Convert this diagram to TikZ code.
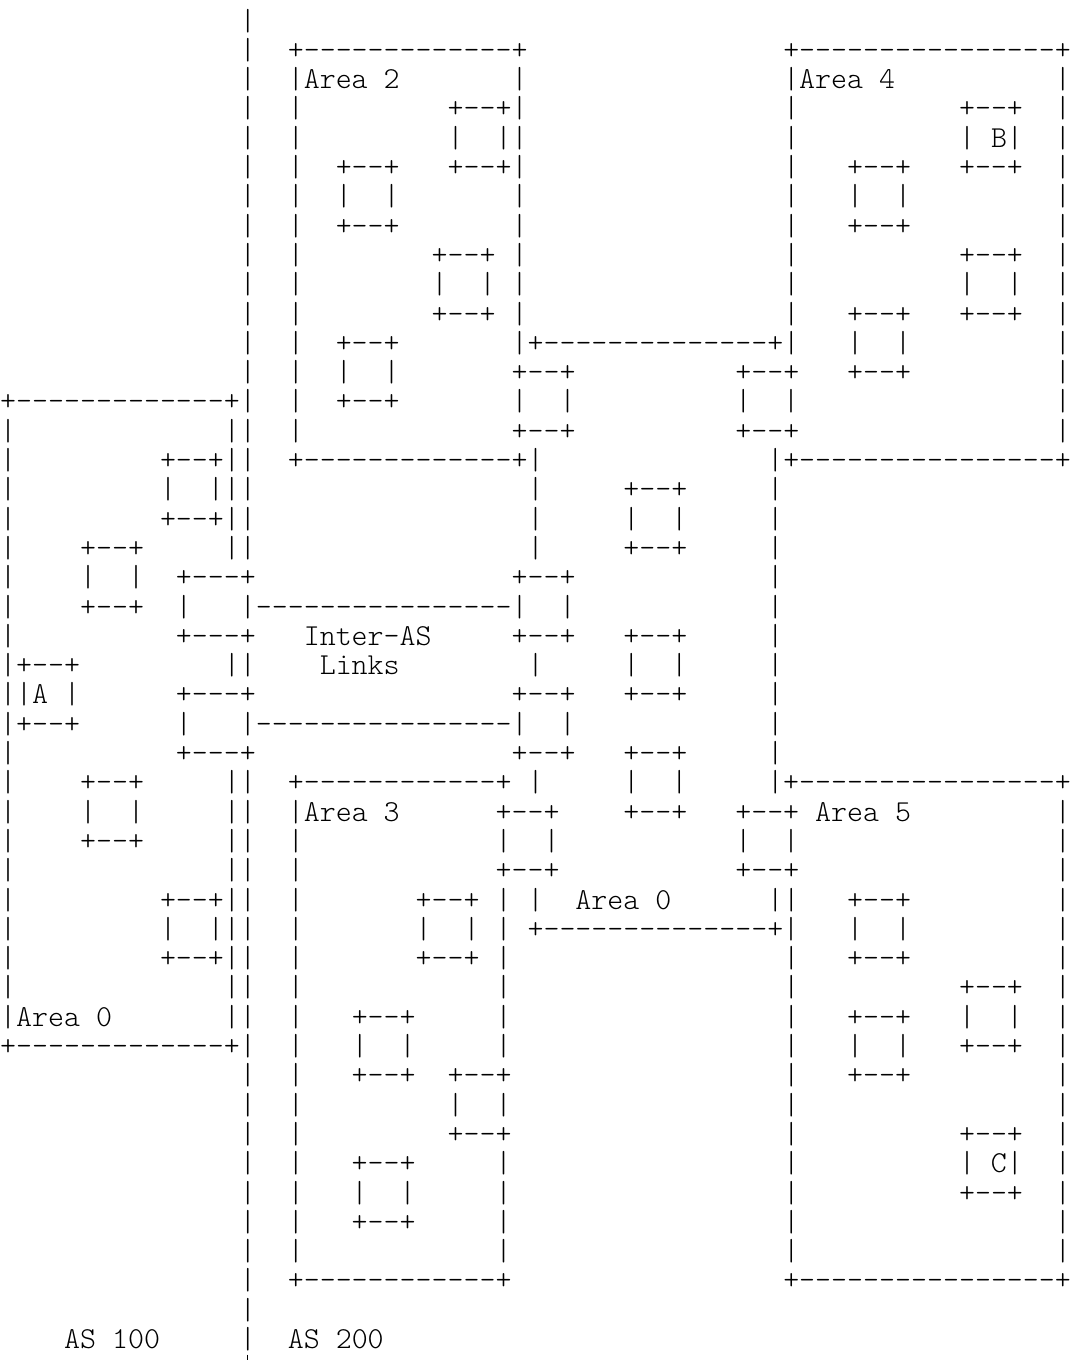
\documentclass[tikz,border=0pt]{standalone}
\usepackage{fontspec}
\setmonofont{lmmonolt10-regular.otf}
\newcommand\asp[1]{\hspace*{\dimexpr 0.525em * #1\relax}}
\ExplSyntaxOn
\cs_new:Npn \ads #1 {\prg_replicate:nn{#1}{-}}
\ExplSyntaxOff
\newcommand\asl[2]{\node[asc] (r#1) at (0,{30+29.3*#1}) {#2};}
\begin{document}
\frenchspacing
\begin{tikzpicture}[x=1pt,y=-1pt,
  asc/.style={font=\ttfamily\fontsize{30.44}{29.3}\selectfont, anchor=base west, inner sep=0pt, text=black}]
\fill[white] (0,0) rectangle (1071,1360);
\useasboundingbox (0,0) rectangle (1071,1360);
\asl{0}{\asp{15}|}
\asl{1}{\asp{15}|\asp{2}+\ads{13}+\asp{16}+\ads{16}+}
\asl{2}{\asp{15}|\asp{2}|Area\asp{1}2\asp{7}|\asp{16}|Area\asp{1}4\asp{10}|}
\asl{3}{\asp{15}|\asp{2}|\asp{9}+--+|\asp{16}|\asp{10}+--+\asp{2}|}
\asl{4}{\asp{15}|\asp{2}|\asp{9}|\asp{2}||\asp{16}|\asp{10}|\asp{1}B|\asp{2}|}
\asl{5}{\asp{15}|\asp{2}|\asp{2}+--+\asp{3}+--+|\asp{16}|\asp{3}+--+\asp{3}+--+\asp{2}|}
\asl{6}{\asp{15}|\asp{2}|\asp{2}|\asp{2}|\asp{7}|\asp{16}|\asp{3}|\asp{2}|\asp{9}|}
\asl{7}{\asp{15}|\asp{2}|\asp{2}+--+\asp{7}|\asp{16}|\asp{3}+--+\asp{9}|}
\asl{8}{\asp{15}|\asp{2}|\asp{8}+--+\asp{1}|\asp{16}|\asp{10}+--+\asp{2}|}
\asl{9}{\asp{15}|\asp{2}|\asp{8}|\asp{2}|\asp{1}|\asp{16}|\asp{10}|\asp{2}|\asp{2}|}
\asl{10}{\asp{15}|\asp{2}|\asp{8}+--+\asp{1}|\asp{16}|\asp{3}+--+\asp{3}+--+\asp{2}|}
\asl{11}{\asp{15}|\asp{2}|\asp{2}+--+\asp{7}|+\ads{14}+|\asp{3}|\asp{2}|\asp{9}|}
\asl{12}{\asp{15}|\asp{2}|\asp{2}|\asp{2}|\asp{7}+--+\asp{10}+--+\asp{3}+--+\asp{9}|}
\asl{13}{+\ads{13}+|\asp{2}|\asp{2}+--+\asp{7}|\asp{2}|\asp{10}|\asp{2}|\asp{16}|}
\asl{14}{|\asp{13}||\asp{2}|\asp{13}+--+\asp{10}+--+\asp{16}|}
\asl{15}{|\asp{9}+--+||\asp{2}+\ads{13}+|\asp{14}|+\ads{16}+}
\asl{16}{|\asp{9}|\asp{2}|||\asp{17}|\asp{5}+--+\asp{5}|}
\asl{17}{|\asp{9}+--+||\asp{17}|\asp{5}|\asp{2}|\asp{5}|}
\asl{18}{|\asp{4}+--+\asp{5}||\asp{17}|\asp{5}+--+\asp{5}|}
\asl{19}{|\asp{4}|\asp{2}|\asp{2}+---+\asp{16}+--+\asp{12}|}
\asl{20}{|\asp{4}+--+\asp{2}|\asp{3}|\ads{16}|\asp{2}|\asp{12}|}
\asl{21}{|\asp{10}+---+\asp{3}Inter-AS\asp{5}+--+\asp{3}+--+\asp{5}|}
\asl{22}{|+--+\asp{9}||\asp{4}Links\asp{8}|\asp{5}|\asp{2}|\asp{5}|}
\asl{23}{||A\asp{1}|\asp{6}+---+\asp{16}+--+\asp{3}+--+\asp{5}|}
\asl{24}{|+--+\asp{6}|\asp{3}|\ads{16}|\asp{2}|\asp{12}|}
\asl{25}{|\asp{10}+---+\asp{16}+--+\asp{3}+--+\asp{5}|}
\asl{26}{|\asp{4}+--+\asp{5}||\asp{2}+\ads{12}+\asp{1}|\asp{5}|\asp{2}|\asp{5}|+\ads{16}+}
\asl{27}{|\asp{4}|\asp{2}|\asp{5}||\asp{2}|Area\asp{1}3\asp{6}+--+\asp{4}+--+\asp{3}+--+\asp{1}Area\asp{1}5\asp{9}|}
\asl{28}{|\asp{4}+--+\asp{5}||\asp{2}|\asp{12}|\asp{2}|\asp{11}|\asp{2}|\asp{16}|}
\asl{29}{|\asp{13}||\asp{2}|\asp{12}+--+\asp{11}+--+\asp{16}|}
\asl{30}{|\asp{9}+--+||\asp{2}|\asp{7}+--+\asp{1}|\asp{1}|\asp{2}Area\asp{1}0\asp{6}||\asp{3}+--+\asp{9}|}
\asl{31}{|\asp{9}|\asp{2}|||\asp{2}|\asp{7}|\asp{2}|\asp{1}|\asp{1}+\ads{14}+|\asp{3}|\asp{2}|\asp{9}|}
\asl{32}{|\asp{9}+--+||\asp{2}|\asp{7}+--+\asp{1}|\asp{17}|\asp{3}+--+\asp{9}|}
\asl{33}{|\asp{13}||\asp{2}|\asp{12}|\asp{17}|\asp{10}+--+\asp{2}|}
\asl{34}{|Area\asp{1}0\asp{7}||\asp{2}|\asp{3}+--+\asp{5}|\asp{17}|\asp{3}+--+\asp{3}|\asp{2}|\asp{2}|}
\asl{35}{+\ads{13}+|\asp{2}|\asp{3}|\asp{2}|\asp{5}|\asp{17}|\asp{3}|\asp{2}|\asp{3}+--+\asp{2}|}
\asl{36}{\asp{15}|\asp{2}|\asp{3}+--+\asp{2}+--+\asp{17}|\asp{3}+--+\asp{9}|}
\asl{37}{\asp{15}|\asp{2}|\asp{9}|\asp{2}|\asp{17}|\asp{16}|}
\asl{38}{\asp{15}|\asp{2}|\asp{9}+--+\asp{17}|\asp{10}+--+\asp{2}|}
\asl{39}{\asp{15}|\asp{2}|\asp{3}+--+\asp{5}|\asp{17}|\asp{10}|\asp{1}C|\asp{2}|}
\asl{40}{\asp{15}|\asp{2}|\asp{3}|\asp{2}|\asp{5}|\asp{17}|\asp{10}+--+\asp{2}|}
\asl{41}{\asp{15}|\asp{2}|\asp{3}+--+\asp{5}|\asp{17}|\asp{16}|}
\asl{42}{\asp{15}|\asp{2}|\asp{12}|\asp{17}|\asp{16}|}
\asl{43}{\asp{15}|\asp{2}+\ads{12}+\asp{17}+\ads{16}+}
\asl{44}{\asp{15}|}
\asl{45}{\asp{4}AS\asp{1}100\asp{5}|\asp{2}AS\asp{1}200}
\coordinate (tail) at (247.8,1360);
\draw[line width=1.2pt] (r45.base west) ++(247.8,6) coordinate (tailtop) -- (tail);
\end{tikzpicture}
\end{document}
